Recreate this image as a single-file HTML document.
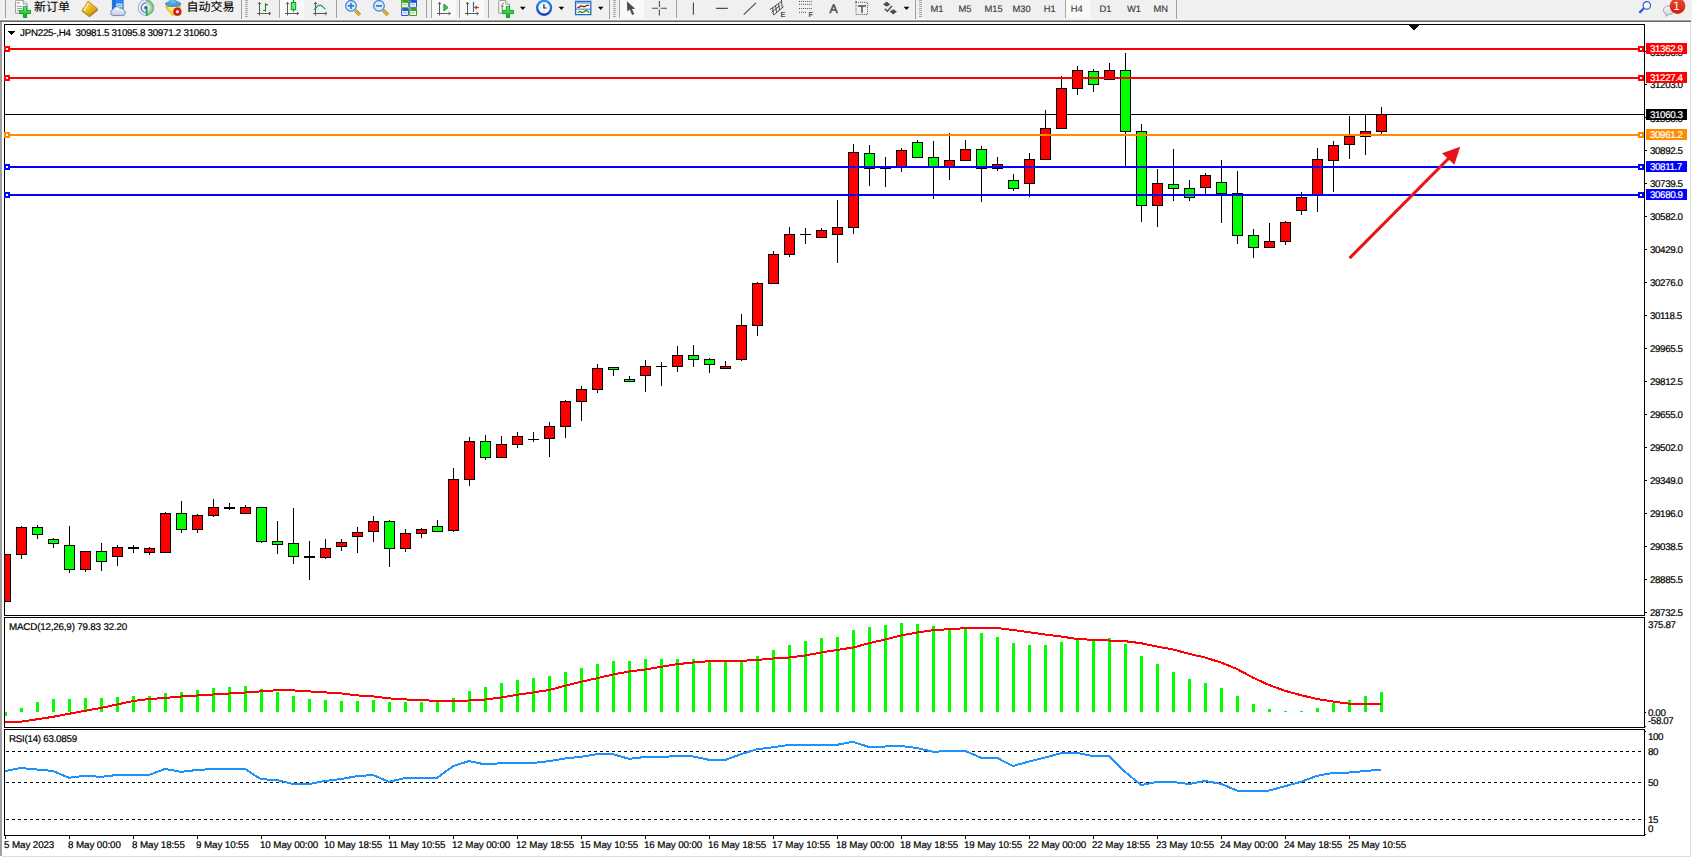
<!DOCTYPE html><html><head><meta charset="utf-8"><title>JPN225-,H4</title>
<style>
html,body{margin:0;padding:0;background:#fff;}
body{width:1692px;height:858px;overflow:hidden;position:relative;font-family:"Liberation Sans","Noto Sans CJK SC",sans-serif;font-size:9.8px;color:#000;-webkit-text-stroke:0.2px #000;text-rendering:geometricPrecision;}
#tb{position:absolute;left:0;top:0;width:1692px;height:19px;background:#f0f0f0;overflow:hidden;}
.t{letter-spacing:-0.27px;position:absolute;white-space:nowrap;line-height:12px;height:12px;}
.cn{-webkit-text-stroke:0.1px #000;position:absolute;white-space:nowrap;font-size:12px;line-height:14px;font-family:"Liberation Sans","Noto Sans CJK SC",sans-serif;color:#000;}
.tf{-webkit-text-stroke:0.15px #3c3c3c;position:absolute;white-space:nowrap;font-size:9.4px;line-height:12px;color:#3c3c3c;top:2.5px;}
.pl{letter-spacing:-0.4px;-webkit-text-stroke:0.2px #fff;position:absolute;left:1646px;width:41px;height:11px;color:#fff;line-height:14px;overflow:hidden;text-indent:4px;white-space:nowrap;}
.ax{letter-spacing:-0.4px;position:absolute;left:1650px;white-space:nowrap;line-height:12px;height:12px;}
.tm{position:absolute;top:840px;letter-spacing:-0.1px;white-space:nowrap;line-height:12px;height:12px;}
svg{position:absolute;left:0;top:0;}
</style></head><body>
<svg id="chart" width="1692" height="858" viewBox="0 0 1692 858" shape-rendering="crispEdges">
<rect x="0" y="19" width="1692" height="1" fill="#fafafa"/>
<rect x="0" y="20" width="1691" height="1" fill="#a0a0a0"/>
<rect x="0" y="21" width="1691" height="1" fill="#696969"/>
<rect x="1691" y="19" width="1" height="3" fill="#f0f0f0"/>
<rect x="0" y="22" width="2" height="834" fill="#a0a0a0"/>
<rect x="1690" y="22" width="1" height="835" fill="#dedede"/>
<rect x="2" y="856" width="1689" height="1" fill="#dedede"/>
<rect x="4" y="24" width="1641" height="1" fill="#000"/>
<rect x="4" y="615" width="1641" height="1" fill="#000"/>
<rect x="4" y="24" width="1" height="592" fill="#000"/>
<rect x="1644" y="24" width="1" height="592" fill="#000"/>
<rect x="4" y="617" width="1641" height="1" fill="#000"/>
<rect x="4" y="727" width="1641" height="1" fill="#000"/>
<rect x="4" y="617" width="1" height="111" fill="#000"/>
<rect x="1644" y="617" width="1" height="111" fill="#000"/>
<rect x="4" y="729" width="1641" height="1" fill="#000"/>
<rect x="4" y="835" width="1641" height="1" fill="#000"/>
<rect x="4" y="729" width="1" height="107" fill="#000"/>
<rect x="1644" y="729" width="1" height="107" fill="#000"/>
<rect x="1645" y="834" width="1" height="1" fill="#000"/>
<rect x="1645" y="84" width="2" height="1" fill="#000"/>
<rect x="1645" y="150" width="2" height="1" fill="#000"/>
<rect x="1645" y="183" width="2" height="1" fill="#000"/>
<rect x="1645" y="216" width="2" height="1" fill="#000"/>
<rect x="1645" y="249" width="2" height="1" fill="#000"/>
<rect x="1645" y="282" width="2" height="1" fill="#000"/>
<rect x="1645" y="315" width="2" height="1" fill="#000"/>
<rect x="1645" y="348" width="2" height="1" fill="#000"/>
<rect x="1645" y="381" width="2" height="1" fill="#000"/>
<rect x="1645" y="414" width="2" height="1" fill="#000"/>
<rect x="1645" y="447" width="2" height="1" fill="#000"/>
<rect x="1645" y="480" width="2" height="1" fill="#000"/>
<rect x="1645" y="513" width="2" height="1" fill="#000"/>
<rect x="1645" y="546" width="2" height="1" fill="#000"/>
<rect x="1645" y="579" width="2" height="1" fill="#000"/>
<rect x="1645" y="612" width="2" height="1" fill="#000"/>
<rect x="1645" y="51" width="2" height="1" fill="#000"/>
<rect x="1645" y="117" width="2" height="1" fill="#000"/>
<rect x="1645" y="712" width="1" height="1" fill="#000"/>
<rect x="1645" y="726" width="1" height="1" fill="#000"/>
<rect x="1645" y="731" width="1" height="1" fill="#000"/>
<rect x="5" y="114" width="1639" height="1" fill="#000"/>
<rect x="5" y="554" width="1" height="48" fill="#000"/>
<rect x="5" y="554" width="6" height="48" fill="#000"/>
<rect x="5" y="555" width="5" height="46" fill="#f00"/>
<rect x="21" y="526" width="1" height="33" fill="#000"/>
<rect x="16" y="527" width="11" height="28" fill="#000"/>
<rect x="17" y="528" width="9" height="26" fill="#f00"/>
<rect x="37" y="525" width="1" height="14" fill="#000"/>
<rect x="32" y="527" width="11" height="8" fill="#000"/>
<rect x="33" y="528" width="9" height="6" fill="#0f0"/>
<rect x="53" y="538" width="1" height="10" fill="#000"/>
<rect x="48" y="539" width="11" height="5" fill="#000"/>
<rect x="49" y="540" width="9" height="3" fill="#0f0"/>
<rect x="69" y="526" width="1" height="47" fill="#000"/>
<rect x="64" y="545" width="11" height="25" fill="#000"/>
<rect x="65" y="546" width="9" height="23" fill="#0f0"/>
<rect x="85" y="551" width="1" height="21" fill="#000"/>
<rect x="80" y="551" width="11" height="19" fill="#000"/>
<rect x="81" y="552" width="9" height="17" fill="#f00"/>
<rect x="101" y="543" width="1" height="28" fill="#000"/>
<rect x="96" y="551" width="11" height="11" fill="#000"/>
<rect x="97" y="552" width="9" height="9" fill="#0f0"/>
<rect x="117" y="545" width="1" height="21" fill="#000"/>
<rect x="112" y="547" width="11" height="10" fill="#000"/>
<rect x="113" y="548" width="9" height="8" fill="#f00"/>
<rect x="133" y="545" width="1" height="8" fill="#000"/>
<rect x="128" y="547" width="11" height="2" fill="#000"/>
<rect x="149" y="547" width="1" height="8" fill="#000"/>
<rect x="144" y="548" width="11" height="5" fill="#000"/>
<rect x="145" y="549" width="9" height="3" fill="#f00"/>
<rect x="165" y="512" width="1" height="41" fill="#000"/>
<rect x="160" y="513" width="11" height="40" fill="#000"/>
<rect x="161" y="514" width="9" height="38" fill="#f00"/>
<rect x="181" y="501" width="1" height="32" fill="#000"/>
<rect x="176" y="513" width="11" height="17" fill="#000"/>
<rect x="177" y="514" width="9" height="15" fill="#0f0"/>
<rect x="197" y="514" width="1" height="19" fill="#000"/>
<rect x="192" y="515" width="11" height="15" fill="#000"/>
<rect x="193" y="516" width="9" height="13" fill="#f00"/>
<rect x="213" y="499" width="1" height="18" fill="#000"/>
<rect x="208" y="507" width="11" height="9" fill="#000"/>
<rect x="209" y="508" width="9" height="7" fill="#f00"/>
<rect x="229" y="503" width="1" height="7" fill="#000"/>
<rect x="224" y="507" width="11" height="2" fill="#000"/>
<rect x="245" y="505" width="1" height="9" fill="#000"/>
<rect x="240" y="507" width="11" height="7" fill="#000"/>
<rect x="241" y="508" width="9" height="5" fill="#f00"/>
<rect x="261" y="507" width="1" height="36" fill="#000"/>
<rect x="256" y="507" width="11" height="35" fill="#000"/>
<rect x="257" y="508" width="9" height="33" fill="#0f0"/>
<rect x="277" y="521" width="1" height="33" fill="#000"/>
<rect x="272" y="541" width="11" height="4" fill="#000"/>
<rect x="273" y="542" width="9" height="2" fill="#0f0"/>
<rect x="293" y="508" width="1" height="56" fill="#000"/>
<rect x="288" y="543" width="11" height="14" fill="#000"/>
<rect x="289" y="544" width="9" height="12" fill="#0f0"/>
<rect x="309" y="541" width="1" height="39" fill="#000"/>
<rect x="304" y="556" width="11" height="2" fill="#000"/>
<rect x="325" y="539" width="1" height="20" fill="#000"/>
<rect x="320" y="548" width="11" height="10" fill="#000"/>
<rect x="321" y="549" width="9" height="8" fill="#f00"/>
<rect x="341" y="539" width="1" height="12" fill="#000"/>
<rect x="336" y="542" width="11" height="5" fill="#000"/>
<rect x="337" y="543" width="9" height="3" fill="#f00"/>
<rect x="357" y="527" width="1" height="26" fill="#000"/>
<rect x="352" y="532" width="11" height="5" fill="#000"/>
<rect x="353" y="533" width="9" height="3" fill="#f00"/>
<rect x="373" y="516" width="1" height="26" fill="#000"/>
<rect x="368" y="521" width="11" height="11" fill="#000"/>
<rect x="369" y="522" width="9" height="9" fill="#f00"/>
<rect x="389" y="520" width="1" height="47" fill="#000"/>
<rect x="384" y="521" width="11" height="28" fill="#000"/>
<rect x="385" y="522" width="9" height="26" fill="#0f0"/>
<rect x="405" y="529" width="1" height="23" fill="#000"/>
<rect x="400" y="533" width="11" height="16" fill="#000"/>
<rect x="401" y="534" width="9" height="14" fill="#f00"/>
<rect x="421" y="528" width="1" height="10" fill="#000"/>
<rect x="416" y="529" width="11" height="5" fill="#000"/>
<rect x="417" y="530" width="9" height="3" fill="#f00"/>
<rect x="437" y="520" width="1" height="12" fill="#000"/>
<rect x="432" y="526" width="11" height="6" fill="#000"/>
<rect x="433" y="527" width="9" height="4" fill="#0f0"/>
<rect x="453" y="468" width="1" height="64" fill="#000"/>
<rect x="448" y="479" width="11" height="52" fill="#000"/>
<rect x="449" y="480" width="9" height="50" fill="#f00"/>
<rect x="469" y="437" width="1" height="49" fill="#000"/>
<rect x="464" y="441" width="11" height="39" fill="#000"/>
<rect x="465" y="442" width="9" height="37" fill="#f00"/>
<rect x="485" y="435" width="1" height="25" fill="#000"/>
<rect x="480" y="441" width="11" height="17" fill="#000"/>
<rect x="481" y="442" width="9" height="15" fill="#0f0"/>
<rect x="501" y="436" width="1" height="22" fill="#000"/>
<rect x="496" y="444" width="11" height="14" fill="#000"/>
<rect x="497" y="445" width="9" height="12" fill="#f00"/>
<rect x="517" y="432" width="1" height="16" fill="#000"/>
<rect x="512" y="436" width="11" height="9" fill="#000"/>
<rect x="513" y="437" width="9" height="7" fill="#f00"/>
<rect x="533" y="432" width="1" height="10" fill="#000"/>
<rect x="528" y="439" width="11" height="1" fill="#000"/>
<rect x="549" y="422" width="1" height="35" fill="#000"/>
<rect x="544" y="426" width="11" height="13" fill="#000"/>
<rect x="545" y="427" width="9" height="11" fill="#f00"/>
<rect x="565" y="400" width="1" height="38" fill="#000"/>
<rect x="560" y="401" width="11" height="26" fill="#000"/>
<rect x="561" y="402" width="9" height="24" fill="#f00"/>
<rect x="581" y="386" width="1" height="35" fill="#000"/>
<rect x="576" y="389" width="11" height="13" fill="#000"/>
<rect x="577" y="390" width="9" height="11" fill="#f00"/>
<rect x="597" y="364" width="1" height="29" fill="#000"/>
<rect x="592" y="368" width="11" height="22" fill="#000"/>
<rect x="593" y="369" width="9" height="20" fill="#f00"/>
<rect x="613" y="367" width="1" height="9" fill="#000"/>
<rect x="608" y="367" width="11" height="3" fill="#000"/>
<rect x="609" y="368" width="9" height="1" fill="#0f0"/>
<rect x="629" y="376" width="1" height="6" fill="#000"/>
<rect x="624" y="379" width="11" height="3" fill="#000"/>
<rect x="625" y="380" width="9" height="1" fill="#0f0"/>
<rect x="645" y="360" width="1" height="32" fill="#000"/>
<rect x="640" y="366" width="11" height="10" fill="#000"/>
<rect x="641" y="367" width="9" height="8" fill="#f00"/>
<rect x="661" y="362" width="1" height="24" fill="#000"/>
<rect x="656" y="366" width="11" height="1" fill="#000"/>
<rect x="677" y="346" width="1" height="26" fill="#000"/>
<rect x="672" y="355" width="11" height="12" fill="#000"/>
<rect x="673" y="356" width="9" height="10" fill="#f00"/>
<rect x="693" y="345" width="1" height="22" fill="#000"/>
<rect x="688" y="355" width="11" height="5" fill="#000"/>
<rect x="689" y="356" width="9" height="3" fill="#0f0"/>
<rect x="709" y="358" width="1" height="15" fill="#000"/>
<rect x="704" y="359" width="11" height="6" fill="#000"/>
<rect x="705" y="360" width="9" height="4" fill="#0f0"/>
<rect x="725" y="361" width="1" height="8" fill="#000"/>
<rect x="720" y="366" width="11" height="3" fill="#000"/>
<rect x="721" y="367" width="9" height="1" fill="#f00"/>
<rect x="741" y="314" width="1" height="47" fill="#000"/>
<rect x="736" y="325" width="11" height="35" fill="#000"/>
<rect x="737" y="326" width="9" height="33" fill="#f00"/>
<rect x="757" y="282" width="1" height="54" fill="#000"/>
<rect x="752" y="283" width="11" height="43" fill="#000"/>
<rect x="753" y="284" width="9" height="41" fill="#f00"/>
<rect x="773" y="251" width="1" height="33" fill="#000"/>
<rect x="768" y="254" width="11" height="30" fill="#000"/>
<rect x="769" y="255" width="9" height="28" fill="#f00"/>
<rect x="789" y="227" width="1" height="30" fill="#000"/>
<rect x="784" y="234" width="11" height="21" fill="#000"/>
<rect x="785" y="235" width="9" height="19" fill="#f00"/>
<rect x="805" y="228" width="1" height="16" fill="#000"/>
<rect x="800" y="234" width="11" height="1" fill="#000"/>
<rect x="821" y="228" width="1" height="10" fill="#000"/>
<rect x="816" y="230" width="11" height="8" fill="#000"/>
<rect x="817" y="231" width="9" height="6" fill="#f00"/>
<rect x="837" y="200" width="1" height="63" fill="#000"/>
<rect x="832" y="227" width="11" height="8" fill="#000"/>
<rect x="833" y="228" width="9" height="6" fill="#f00"/>
<rect x="853" y="144" width="1" height="90" fill="#000"/>
<rect x="848" y="152" width="11" height="76" fill="#000"/>
<rect x="849" y="153" width="9" height="74" fill="#f00"/>
<rect x="869" y="145" width="1" height="41" fill="#000"/>
<rect x="864" y="153" width="11" height="16" fill="#000"/>
<rect x="865" y="154" width="9" height="14" fill="#0f0"/>
<rect x="885" y="157" width="1" height="30" fill="#000"/>
<rect x="880" y="168" width="11" height="1" fill="#000"/>
<rect x="901" y="148" width="1" height="24" fill="#000"/>
<rect x="896" y="150" width="11" height="17" fill="#000"/>
<rect x="897" y="151" width="9" height="15" fill="#f00"/>
<rect x="917" y="140" width="1" height="18" fill="#000"/>
<rect x="912" y="142" width="11" height="16" fill="#000"/>
<rect x="913" y="143" width="9" height="14" fill="#0f0"/>
<rect x="933" y="141" width="1" height="58" fill="#000"/>
<rect x="928" y="157" width="11" height="11" fill="#000"/>
<rect x="929" y="158" width="9" height="9" fill="#0f0"/>
<rect x="949" y="133" width="1" height="47" fill="#000"/>
<rect x="944" y="160" width="11" height="8" fill="#000"/>
<rect x="945" y="161" width="9" height="6" fill="#f00"/>
<rect x="965" y="140" width="1" height="21" fill="#000"/>
<rect x="960" y="149" width="11" height="12" fill="#000"/>
<rect x="961" y="150" width="9" height="10" fill="#f00"/>
<rect x="981" y="146" width="1" height="56" fill="#000"/>
<rect x="976" y="149" width="11" height="20" fill="#000"/>
<rect x="977" y="150" width="9" height="18" fill="#0f0"/>
<rect x="997" y="157" width="1" height="14" fill="#000"/>
<rect x="992" y="164" width="11" height="5" fill="#000"/>
<rect x="993" y="165" width="9" height="3" fill="#f00"/>
<rect x="1013" y="174" width="1" height="17" fill="#000"/>
<rect x="1008" y="180" width="11" height="9" fill="#000"/>
<rect x="1009" y="181" width="9" height="7" fill="#0f0"/>
<rect x="1029" y="153" width="1" height="44" fill="#000"/>
<rect x="1024" y="159" width="11" height="25" fill="#000"/>
<rect x="1025" y="160" width="9" height="23" fill="#f00"/>
<rect x="1045" y="110" width="1" height="50" fill="#000"/>
<rect x="1040" y="128" width="11" height="32" fill="#000"/>
<rect x="1041" y="129" width="9" height="30" fill="#f00"/>
<rect x="1061" y="76" width="1" height="53" fill="#000"/>
<rect x="1056" y="88" width="11" height="41" fill="#000"/>
<rect x="1057" y="89" width="9" height="39" fill="#f00"/>
<rect x="1077" y="66" width="1" height="29" fill="#000"/>
<rect x="1072" y="70" width="11" height="19" fill="#000"/>
<rect x="1073" y="71" width="9" height="17" fill="#f00"/>
<rect x="1093" y="69" width="1" height="23" fill="#000"/>
<rect x="1088" y="71" width="11" height="14" fill="#000"/>
<rect x="1089" y="72" width="9" height="12" fill="#0f0"/>
<rect x="1109" y="63" width="1" height="17" fill="#000"/>
<rect x="1104" y="70" width="11" height="10" fill="#000"/>
<rect x="1105" y="71" width="9" height="8" fill="#f00"/>
<rect x="1125" y="53" width="1" height="113" fill="#000"/>
<rect x="1120" y="70" width="11" height="62" fill="#000"/>
<rect x="1121" y="71" width="9" height="60" fill="#0f0"/>
<rect x="1141" y="124" width="1" height="98" fill="#000"/>
<rect x="1136" y="131" width="11" height="75" fill="#000"/>
<rect x="1137" y="132" width="9" height="73" fill="#0f0"/>
<rect x="1157" y="169" width="1" height="58" fill="#000"/>
<rect x="1152" y="183" width="11" height="23" fill="#000"/>
<rect x="1153" y="184" width="9" height="21" fill="#f00"/>
<rect x="1173" y="149" width="1" height="52" fill="#000"/>
<rect x="1168" y="184" width="11" height="5" fill="#000"/>
<rect x="1169" y="185" width="9" height="3" fill="#0f0"/>
<rect x="1189" y="180" width="1" height="21" fill="#000"/>
<rect x="1184" y="188" width="11" height="10" fill="#000"/>
<rect x="1185" y="189" width="9" height="8" fill="#0f0"/>
<rect x="1205" y="173" width="1" height="21" fill="#000"/>
<rect x="1200" y="175" width="11" height="13" fill="#000"/>
<rect x="1201" y="176" width="9" height="11" fill="#f00"/>
<rect x="1221" y="160" width="1" height="63" fill="#000"/>
<rect x="1216" y="182" width="11" height="12" fill="#000"/>
<rect x="1217" y="183" width="9" height="10" fill="#0f0"/>
<rect x="1237" y="171" width="1" height="73" fill="#000"/>
<rect x="1232" y="193" width="11" height="43" fill="#000"/>
<rect x="1233" y="194" width="9" height="41" fill="#0f0"/>
<rect x="1253" y="229" width="1" height="29" fill="#000"/>
<rect x="1248" y="235" width="11" height="13" fill="#000"/>
<rect x="1249" y="236" width="9" height="11" fill="#0f0"/>
<rect x="1269" y="223" width="1" height="25" fill="#000"/>
<rect x="1264" y="241" width="11" height="7" fill="#000"/>
<rect x="1265" y="242" width="9" height="5" fill="#f00"/>
<rect x="1285" y="221" width="1" height="24" fill="#000"/>
<rect x="1280" y="222" width="11" height="20" fill="#000"/>
<rect x="1281" y="223" width="9" height="18" fill="#f00"/>
<rect x="1301" y="192" width="1" height="23" fill="#000"/>
<rect x="1296" y="197" width="11" height="14" fill="#000"/>
<rect x="1297" y="198" width="9" height="12" fill="#f00"/>
<rect x="1317" y="148" width="1" height="64" fill="#000"/>
<rect x="1312" y="159" width="11" height="36" fill="#000"/>
<rect x="1313" y="160" width="9" height="34" fill="#f00"/>
<rect x="1333" y="141" width="1" height="51" fill="#000"/>
<rect x="1328" y="145" width="11" height="16" fill="#000"/>
<rect x="1329" y="146" width="9" height="14" fill="#f00"/>
<rect x="1349" y="116" width="1" height="43" fill="#000"/>
<rect x="1344" y="136" width="11" height="9" fill="#000"/>
<rect x="1345" y="137" width="9" height="7" fill="#f00"/>
<rect x="1365" y="115" width="1" height="40" fill="#000"/>
<rect x="1360" y="131" width="11" height="6" fill="#000"/>
<rect x="1361" y="132" width="9" height="4" fill="#f00"/>
<rect x="1381" y="107" width="1" height="27" fill="#000"/>
<rect x="1376" y="114" width="11" height="18" fill="#000"/>
<rect x="1377" y="115" width="9" height="16" fill="#f00"/>
<rect x="5" y="48" width="1639" height="2" fill="#f00"/>
<rect x="4" y="46" width="6" height="6" fill="#f00"/>
<rect x="6" y="48" width="2" height="2" fill="#fff"/>
<rect x="1638" y="46" width="6" height="6" fill="#f00"/>
<rect x="1640" y="48" width="2" height="2" fill="#fff"/>
<rect x="5" y="77" width="1639" height="2" fill="#f00"/>
<rect x="4" y="75" width="6" height="6" fill="#f00"/>
<rect x="6" y="77" width="2" height="2" fill="#fff"/>
<rect x="1638" y="75" width="6" height="6" fill="#f00"/>
<rect x="1640" y="77" width="2" height="2" fill="#fff"/>
<rect x="5" y="134" width="1639" height="2" fill="#ff8c00"/>
<rect x="4" y="132" width="6" height="6" fill="#ff8c00"/>
<rect x="6" y="134" width="2" height="2" fill="#fff"/>
<rect x="1638" y="132" width="6" height="6" fill="#ff8c00"/>
<rect x="1640" y="134" width="2" height="2" fill="#fff"/>
<rect x="5" y="166" width="1639" height="2" fill="#00f"/>
<rect x="4" y="164" width="6" height="6" fill="#00f"/>
<rect x="6" y="166" width="2" height="2" fill="#fff"/>
<rect x="1638" y="164" width="6" height="6" fill="#00f"/>
<rect x="1640" y="166" width="2" height="2" fill="#fff"/>
<rect x="5" y="194" width="1639" height="2" fill="#00f"/>
<rect x="4" y="192" width="6" height="6" fill="#00f"/>
<rect x="6" y="194" width="2" height="2" fill="#fff"/>
<rect x="1638" y="192" width="6" height="6" fill="#00f"/>
<rect x="1640" y="194" width="2" height="2" fill="#fff"/>
<polygon points="1408,25 1419,25 1413.5,30.5" fill="#000"/>
<polygon points="8,31 15,31 11.5,35" fill="#000"/>
<rect x="5" y="712" width="2" height="4" fill="#0f0"/>
<rect x="20" y="708" width="3" height="4" fill="#0f0"/>
<rect x="36" y="702" width="3" height="10" fill="#0f0"/>
<rect x="52" y="699" width="3" height="13" fill="#0f0"/>
<rect x="68" y="699" width="3" height="13" fill="#0f0"/>
<rect x="84" y="698" width="3" height="14" fill="#0f0"/>
<rect x="100" y="698" width="3" height="14" fill="#0f0"/>
<rect x="116" y="697" width="3" height="15" fill="#0f0"/>
<rect x="132" y="696" width="3" height="16" fill="#0f0"/>
<rect x="148" y="696" width="3" height="16" fill="#0f0"/>
<rect x="164" y="693" width="3" height="19" fill="#0f0"/>
<rect x="180" y="692" width="3" height="20" fill="#0f0"/>
<rect x="196" y="690" width="3" height="22" fill="#0f0"/>
<rect x="212" y="688" width="3" height="24" fill="#0f0"/>
<rect x="228" y="687" width="3" height="25" fill="#0f0"/>
<rect x="244" y="686" width="3" height="26" fill="#0f0"/>
<rect x="260" y="689" width="3" height="23" fill="#0f0"/>
<rect x="276" y="692" width="3" height="20" fill="#0f0"/>
<rect x="292" y="696" width="3" height="16" fill="#0f0"/>
<rect x="308" y="699" width="3" height="13" fill="#0f0"/>
<rect x="324" y="700" width="3" height="12" fill="#0f0"/>
<rect x="340" y="701" width="3" height="11" fill="#0f0"/>
<rect x="356" y="701" width="3" height="11" fill="#0f0"/>
<rect x="372" y="700" width="3" height="12" fill="#0f0"/>
<rect x="388" y="702" width="3" height="10" fill="#0f0"/>
<rect x="404" y="702" width="3" height="10" fill="#0f0"/>
<rect x="420" y="702" width="3" height="10" fill="#0f0"/>
<rect x="436" y="702" width="3" height="10" fill="#0f0"/>
<rect x="452" y="698" width="3" height="14" fill="#0f0"/>
<rect x="468" y="691" width="3" height="21" fill="#0f0"/>
<rect x="484" y="687" width="3" height="25" fill="#0f0"/>
<rect x="500" y="683" width="3" height="29" fill="#0f0"/>
<rect x="516" y="680" width="3" height="32" fill="#0f0"/>
<rect x="532" y="678" width="3" height="34" fill="#0f0"/>
<rect x="548" y="676" width="3" height="36" fill="#0f0"/>
<rect x="564" y="672" width="3" height="40" fill="#0f0"/>
<rect x="580" y="668" width="3" height="44" fill="#0f0"/>
<rect x="596" y="664" width="3" height="48" fill="#0f0"/>
<rect x="612" y="661" width="3" height="51" fill="#0f0"/>
<rect x="628" y="661" width="3" height="51" fill="#0f0"/>
<rect x="644" y="659" width="3" height="53" fill="#0f0"/>
<rect x="660" y="659" width="3" height="53" fill="#0f0"/>
<rect x="676" y="659" width="3" height="53" fill="#0f0"/>
<rect x="692" y="659" width="3" height="53" fill="#0f0"/>
<rect x="708" y="660" width="3" height="52" fill="#0f0"/>
<rect x="724" y="661" width="3" height="51" fill="#0f0"/>
<rect x="740" y="660" width="3" height="52" fill="#0f0"/>
<rect x="756" y="656" width="3" height="56" fill="#0f0"/>
<rect x="772" y="650" width="3" height="62" fill="#0f0"/>
<rect x="788" y="645" width="3" height="67" fill="#0f0"/>
<rect x="804" y="641" width="3" height="71" fill="#0f0"/>
<rect x="820" y="638" width="3" height="74" fill="#0f0"/>
<rect x="836" y="637" width="3" height="75" fill="#0f0"/>
<rect x="852" y="630" width="3" height="82" fill="#0f0"/>
<rect x="868" y="627" width="3" height="85" fill="#0f0"/>
<rect x="884" y="625" width="3" height="87" fill="#0f0"/>
<rect x="900" y="623" width="3" height="89" fill="#0f0"/>
<rect x="916" y="624" width="3" height="88" fill="#0f0"/>
<rect x="932" y="626" width="3" height="86" fill="#0f0"/>
<rect x="948" y="628" width="3" height="84" fill="#0f0"/>
<rect x="964" y="629" width="3" height="83" fill="#0f0"/>
<rect x="980" y="633" width="3" height="79" fill="#0f0"/>
<rect x="996" y="637" width="3" height="75" fill="#0f0"/>
<rect x="1012" y="643" width="3" height="69" fill="#0f0"/>
<rect x="1028" y="645" width="3" height="67" fill="#0f0"/>
<rect x="1044" y="645" width="3" height="67" fill="#0f0"/>
<rect x="1060" y="642" width="3" height="70" fill="#0f0"/>
<rect x="1076" y="639" width="3" height="73" fill="#0f0"/>
<rect x="1092" y="640" width="3" height="72" fill="#0f0"/>
<rect x="1108" y="638" width="3" height="74" fill="#0f0"/>
<rect x="1124" y="644" width="3" height="68" fill="#0f0"/>
<rect x="1140" y="656" width="3" height="56" fill="#0f0"/>
<rect x="1156" y="664" width="3" height="48" fill="#0f0"/>
<rect x="1172" y="672" width="3" height="40" fill="#0f0"/>
<rect x="1188" y="679" width="3" height="33" fill="#0f0"/>
<rect x="1204" y="683" width="3" height="29" fill="#0f0"/>
<rect x="1220" y="688" width="3" height="24" fill="#0f0"/>
<rect x="1236" y="696" width="3" height="16" fill="#0f0"/>
<rect x="1252" y="704" width="3" height="8" fill="#0f0"/>
<rect x="1268" y="709" width="3" height="3" fill="#0f0"/>
<rect x="1284" y="711" width="3" height="1" fill="#0f0"/>
<rect x="1300" y="711" width="3" height="1" fill="#0f0"/>
<rect x="1316" y="708" width="3" height="4" fill="#0f0"/>
<rect x="1332" y="703" width="3" height="9" fill="#0f0"/>
<rect x="1348" y="700" width="3" height="12" fill="#0f0"/>
<rect x="1364" y="696" width="3" height="16" fill="#0f0"/>
<rect x="1380" y="692" width="3" height="20" fill="#0f0"/>
<polyline points="5,722.0 21,721.7 37,719.3 53,716.8 69,713.8 85,710.8 101,708.0 117,704.5 133,701.0 149,699.0 165,698.0 181,696.5 197,695.5 213,694.5 229,693.5 245,692.5 261,691.4 277,690.2 293,690.4 309,691.4 325,692.4 341,693.4 357,695.4 373,696.4 389,698.4 405,699.4 421,700.2 437,700.8 453,700.8 469,700.5 485,699.5 501,697.5 517,694.8 533,692.5 549,690.0 565,685.8 581,681.8 597,678.2 613,674.5 629,671.5 645,669.5 661,666.8 677,664.2 693,662.5 709,661.2 725,661.0 741,660.8 757,660.0 773,658.5 789,657.5 805,655.5 821,652.5 837,650.0 853,647.5 869,643.2 885,639.5 901,635.5 917,632.5 933,630.2 949,629.2 965,628.2 981,627.8 997,628.0 1013,630.0 1029,632.2 1045,634.5 1061,636.5 1077,639.0 1093,639.8 1109,640.5 1125,641.2 1141,643.2 1157,646.5 1173,649.5 1189,653.8 1205,657.5 1221,662.5 1237,669.0 1253,677.7 1269,685.0 1285,690.8 1301,695.2 1317,699.0 1333,701.5 1349,703.7 1365,703.7 1381,703.7" fill="none" stroke="#f00" stroke-width="2"/>
<line x1="6" y1="751.5" x2="1644" y2="751.5" stroke="#000" stroke-width="1" stroke-dasharray="3 3"/>
<line x1="6" y1="782.5" x2="1644" y2="782.5" stroke="#000" stroke-width="1" stroke-dasharray="3 3"/>
<line x1="6" y1="819.5" x2="1644" y2="819.5" stroke="#000" stroke-width="1" stroke-dasharray="3 3"/>
<polyline points="5,771.0 21,768.0 37,769.5 53,771.0 69,777.8 85,775.8 101,776.8 117,775.0 133,775.0 149,775.0 165,769.0 181,771.8 197,770.0 213,769.0 229,769.0 245,769.0 261,779.2 277,780.0 293,784.0 309,784.0 325,781.0 341,779.0 357,776.2 373,775.0 389,781.8 405,778.0 421,778.0 437,778.0 453,766.2 469,761.0 485,764.5 501,763.2 517,763.0 533,763.0 549,761.2 565,758.5 581,756.8 597,754.2 613,754.2 629,758.8 645,757.0 661,757.0 677,756.0 693,756.5 709,759.8 725,760.0 741,754.2 757,749.2 773,747.2 789,745.0 805,744.8 821,744.8 837,744.8 853,741.8 869,747.0 885,746.5 901,746.0 917,748.0 933,751.8 949,751.0 965,750.8 981,757.8 997,757.8 1013,766.0 1029,761.5 1045,757.5 1061,753.2 1077,753.0 1093,756.0 1109,756.0 1125,771.8 1141,785.0 1157,782.0 1173,782.0 1189,784.0 1205,781.0 1221,783.8 1237,790.6 1253,790.5 1269,790.5 1285,786.2 1301,781.8 1317,775.8 1333,773.0 1349,772.5 1365,771.1 1381,769.5" fill="none" stroke="#1e90ff" stroke-width="2"/>
<rect x="5" y="836" width="1" height="3" fill="#000"/>
<rect x="69" y="836" width="1" height="3" fill="#000"/>
<rect x="133" y="836" width="1" height="3" fill="#000"/>
<rect x="197" y="836" width="1" height="3" fill="#000"/>
<rect x="261" y="836" width="1" height="3" fill="#000"/>
<rect x="325" y="836" width="1" height="3" fill="#000"/>
<rect x="389" y="836" width="1" height="3" fill="#000"/>
<rect x="453" y="836" width="1" height="3" fill="#000"/>
<rect x="517" y="836" width="1" height="3" fill="#000"/>
<rect x="581" y="836" width="1" height="3" fill="#000"/>
<rect x="645" y="836" width="1" height="3" fill="#000"/>
<rect x="709" y="836" width="1" height="3" fill="#000"/>
<rect x="773" y="836" width="1" height="3" fill="#000"/>
<rect x="837" y="836" width="1" height="3" fill="#000"/>
<rect x="901" y="836" width="1" height="3" fill="#000"/>
<rect x="965" y="836" width="1" height="3" fill="#000"/>
<rect x="1029" y="836" width="1" height="3" fill="#000"/>
<rect x="1093" y="836" width="1" height="3" fill="#000"/>
<rect x="1157" y="836" width="1" height="3" fill="#000"/>
<rect x="1221" y="836" width="1" height="3" fill="#000"/>
<rect x="1285" y="836" width="1" height="3" fill="#000"/>
<rect x="1349" y="836" width="1" height="3" fill="#000"/>
</svg>
<svg width="1692" height="858" viewBox="0 0 1692 858"><line x1="1349.6" y1="258.1" x2="1451" y2="156" stroke="#e8141c" stroke-width="3.1"/><polygon points="1460.2,146.8 1442,153.3 1454.4,164.8" fill="#e8141c"/></svg>
<div class="t" style="left:20px;top:28px;" id="title">JPN225-,H4&nbsp; 30981.5 31095.8 30971.2 31060.3</div>
<div class="t" style="left:9px;top:622px;letter-spacing:-0.18px" id="macdt">MACD(12,26,9) 79.83 32.20</div>
<div class="t" style="left:9px;top:734px;" id="rsit">RSI(14) 63.0859</div>
<div class="ax" style="top:80px">31203.0</div>
<div class="ax" style="top:146px">30892.5</div>
<div class="ax" style="top:179px">30739.5</div>
<div class="ax" style="top:212px">30582.0</div>
<div class="ax" style="top:245px">30429.0</div>
<div class="ax" style="top:278px">30276.0</div>
<div class="ax" style="top:311px">30118.5</div>
<div class="ax" style="top:344px">29965.5</div>
<div class="ax" style="top:377px">29812.5</div>
<div class="ax" style="top:410px">29655.0</div>
<div class="ax" style="top:443px">29502.0</div>
<div class="ax" style="top:476px">29349.0</div>
<div class="ax" style="top:509px">29196.0</div>
<div class="ax" style="top:542px">29038.5</div>
<div class="ax" style="top:575px">28885.5</div>
<div class="ax" style="top:608px">28732.5</div>
<div class="ax" style="top:48px">31356.0</div>
<div class="ax" style="top:114px">31050.0</div>
<div class="pl" style="top:43px;background:#f00">31362.9</div>
<div class="pl" style="top:72px;background:#f00">31227.4</div>
<div class="pl" style="top:109px;background:#000">31060.3</div>
<div class="pl" style="top:129px;background:#ff8c00">30961.2</div>
<div class="pl" style="top:161px;background:#00f">30811.7</div>
<div class="pl" style="top:189px;background:#00f">30680.9</div>
<div class="ax" style="left:1648px;top:620px">375.87</div>
<div class="ax" style="left:1648px;top:708px">0.00</div>
<div class="ax" style="left:1648px;top:716px">-58.07</div>
<div class="ax" style="left:1648px;top:732px">100</div>
<div class="ax" style="left:1648px;top:747px">80</div>
<div class="ax" style="left:1648px;top:778px">50</div>
<div class="ax" style="left:1648px;top:815px">15</div>
<div class="ax" style="left:1648px;top:824px">0</div>
<div class="tm" style="left:4px">5 May 2023</div>
<div class="tm" style="left:68px">8 May 00:00</div>
<div class="tm" style="left:132px">8 May 18:55</div>
<div class="tm" style="left:196px">9 May 10:55</div>
<div class="tm" style="left:260px">10 May 00:00</div>
<div class="tm" style="left:324px">10 May 18:55</div>
<div class="tm" style="left:388px">11 May 10:55</div>
<div class="tm" style="left:452px">12 May 00:00</div>
<div class="tm" style="left:516px">12 May 18:55</div>
<div class="tm" style="left:580px">15 May 10:55</div>
<div class="tm" style="left:644px">16 May 00:00</div>
<div class="tm" style="left:708px">16 May 18:55</div>
<div class="tm" style="left:772px">17 May 10:55</div>
<div class="tm" style="left:836px">18 May 00:00</div>
<div class="tm" style="left:900px">18 May 18:55</div>
<div class="tm" style="left:964px">19 May 10:55</div>
<div class="tm" style="left:1028px">22 May 00:00</div>
<div class="tm" style="left:1092px">22 May 18:55</div>
<div class="tm" style="left:1156px">23 May 10:55</div>
<div class="tm" style="left:1220px">24 May 00:00</div>
<div class="tm" style="left:1284px">24 May 18:55</div>
<div class="tm" style="left:1348px">25 May 10:55</div>
<div id="tb">
<svg width="1692" height="24" viewBox="0 0 1692 24">
<defs><linearGradient id="gold" x1="0" y1="0" x2="1" y2="1"><stop offset="0" stop-color="#fbe27a"/><stop offset="0.5" stop-color="#e9b823"/><stop offset="1" stop-color="#b7820f"/></linearGradient><linearGradient id="grn" x1="0" y1="0" x2="0" y2="1"><stop offset="0" stop-color="#6af676"/><stop offset="0.5" stop-color="#2fd43c"/><stop offset="1" stop-color="#0fa41c"/></linearGradient><linearGradient id="redc" x1="0" y1="0" x2="0" y2="1"><stop offset="0" stop-color="#ea5033"/><stop offset="1" stop-color="#d21c0c"/></linearGradient><linearGradient id="bub" x1="0" y1="0" x2="0" y2="1"><stop offset="0" stop-color="#ffffff"/><stop offset="1" stop-color="#c4c8da"/></linearGradient><linearGradient id="blu" x1="0" y1="0" x2="0" y2="1"><stop offset="0" stop-color="#5fb4f5"/><stop offset="1" stop-color="#1e6fd6"/></linearGradient><linearGradient id="clk" x1="0" y1="0" x2="0" y2="1"><stop offset="0" stop-color="#2f8ff0"/><stop offset="1" stop-color="#0b49ae"/></linearGradient><radialGradient id="sg" cx="146" cy="7.6" r="8" gradientUnits="userSpaceOnUse"><stop offset="0.15" stop-color="#eef6ee"/><stop offset="0.6" stop-color="#b4d8bc"/><stop offset="1" stop-color="#62ab74"/></radialGradient></defs>
<rect x="5" y="0" width="1" height="18" fill="#a0a0a0" shape-rendering="crispEdges"/>
<path d="M16.4,0.3H23.2L27.2,4V13.2H15.6V1.1Q15.6,0.3 16.4,0.3Z" fill="#fdfdfd" stroke="#8c8c8c" stroke-width="0.9"/>
<path d="M23.2,0.3V4H27.2" fill="#ececec" stroke="#8c8c8c" stroke-width="0.8"/>
<rect x="17" y="2.3" width="2.7" height="1.2" fill="#9a9a9a"/>
<path d="M17,6.4H22.4M17,8.5H22.4M17,10.5H20" stroke="#a4a4a4" stroke-width="1"/>
<polygon points="23.4,6.4 26.6,6.4 26.6,10.4 30.6,10.4 30.6,13.6 26.6,13.6 26.6,17.6 23.4,17.6 23.4,13.6 19.4,13.6 19.4,10.4 23.4,10.4" fill="url(#grn)" stroke="#0b8a16" stroke-width="0.8"/>
<path d="M88,1L97.8,9.1L89.3,15.9L81.9,10.4Q85.5,6.5 88,1Z" fill="url(#gold)" stroke="#a8740a" stroke-width="0.8" stroke-linejoin="round"/>
<path d="M89.3,15.9L97.8,9.1L97.9,10.6L89.6,17.2L81.9,11.6L81.9,10.4Z" fill="#b07c10"/>
<path d="M87.6,2.6Q85.6,6.8 83.4,10.2L84.8,11.2Q87.2,7.4 88.9,3.7Z" fill="#fff3b0" opacity="0.75"/>
<path d="M112.4,-2H123.2V9H112.4Z" fill="#2a8af0" stroke="#1b62c4" stroke-width="0.7"/>
<path d="M112.4,-2H115.6V9H112.4Z" fill="#1a6fe0"/>
<rect x="116.4" y="3.6" width="6" height="3.8" fill="#d6ecff"/>
<path d="M117.6,5.4H121.4" stroke="#3a86e0" stroke-width="0.9"/>
<path d="M113,15.6a3.1,3.1 0 0 1 0.3,-6.1a3.5,3.5 0 0 1 6.4,-1.3a2.8,2.8 0 0 1 3.7,1.8a2.9,2.9 0 0 1 -0.4,5.6Z" fill="url(#bub)" stroke="#5f80b8" stroke-width="0.9"/>
<path d="M146,-0.3a7.9,7.9 0 0 1 0,15.8Z" fill="url(#sg)"/>
<g fill="none"><path d="M146,-0.2a7.8,7.8 0 0 0 0,15.6" stroke="#9db6e6" stroke-width="1.1"/><path d="M146,2.9a4.8,4.8 0 0 0 0,9.6" stroke="#4a78d0" stroke-width="1.2"/><path d="M146,15.4a7.8,7.8 0 0 0 0,-15.6" stroke="#7ab88a" stroke-width="0.9"/></g>
<circle cx="145.9" cy="7.7" r="1.7" fill="#2456c8"/>
<path d="M146.7,8.3V15.7" stroke="#1fa632" stroke-width="1.7"/>
<path d="M165.7,6.6L180.7,6.2L176.4,12L172.9,15.7L168.2,10.8Z" fill="#f6d433" stroke="#c99b15" stroke-width="0.7"/>
<path d="M167.5,7.2L176,7L172.8,11.5Z" fill="#fdf0a0" opacity="0.8"/>
<ellipse cx="173.2" cy="3.9" rx="7.8" ry="2.5" fill="#4b9fe0" stroke="#2c78c2" stroke-width="0.7"/>
<ellipse cx="172.9" cy="1.5" rx="3.5" ry="2.7" fill="#6bb6ee" stroke="#3a86cc" stroke-width="0.6"/>
<circle cx="177.4" cy="11.7" r="3.9" fill="#de2212" stroke="#b81408" stroke-width="0.6"/><rect x="176.1" y="10.4" width="2.6" height="2.6" fill="#fff"/>
<rect x="241" y="0" width="1" height="20" fill="#a0a0a0" shape-rendering="crispEdges"/>
<rect x="245" y="0" width="3" height="1" fill="#a8a8a8" shape-rendering="crispEdges"/>
<rect x="245" y="2" width="3" height="1" fill="#a8a8a8" shape-rendering="crispEdges"/>
<rect x="245" y="4" width="3" height="1" fill="#a8a8a8" shape-rendering="crispEdges"/>
<rect x="245" y="6" width="3" height="1" fill="#a8a8a8" shape-rendering="crispEdges"/>
<rect x="245" y="8" width="3" height="1" fill="#a8a8a8" shape-rendering="crispEdges"/>
<rect x="245" y="10" width="3" height="1" fill="#a8a8a8" shape-rendering="crispEdges"/>
<rect x="245" y="12" width="3" height="1" fill="#a8a8a8" shape-rendering="crispEdges"/>
<rect x="245" y="14" width="3" height="1" fill="#a8a8a8" shape-rendering="crispEdges"/>
<rect x="245" y="16" width="3" height="1" fill="#a8a8a8" shape-rendering="crispEdges"/>
<g stroke="#5a5a5a" stroke-width="1" fill="none"><path d="M259.5,2.4V15.6M257,13.5H270.8"/><path d="M258.0,4.2L259.5,2.4L261.0,4.2M269.0,12L270.8,13.5L269.0,15"/></g>
<path d="M265.5,3.2V11.7M265.5,4.6H268M263,10.5H265.5" stroke="#148a1c" stroke-width="1.1" fill="none"/>
<rect x="280" y="0" width="24" height="18" fill="#f9f9f9" shape-rendering="crispEdges"/>
<rect x="279" y="0" width="1" height="18" fill="#a6a6a6" shape-rendering="crispEdges"/>
<g stroke="#5a5a5a" stroke-width="1" fill="none"><path d="M287.5,2.4V15.6M285,13.5H298.7"/><path d="M286.0,4.2L287.5,2.4L289.0,4.2M296.9,12L298.7,13.5L296.9,15"/></g>
<path d="M293.5,-1V11.8" stroke="#128a20" stroke-width="1.1"/><rect x="291.3" y="2.5" width="4.4" height="7.2" fill="#5cf06c" stroke="#0e9a1e" stroke-width="1"/>
<g stroke="#5a5a5a" stroke-width="1" fill="none"><path d="M315.5,2.4V15.6M313.2,13.5H327"/><path d="M314.0,4.2L315.5,2.4L317.0,4.2M325.2,12L327,13.5L325.2,15"/></g>
<path d="M314.2,9.9C316.5,7 318.5,5 320.3,5.2S323.5,8 325.5,9" stroke="#2a9a3a" stroke-width="1.3" fill="none"/>
<rect x="336" y="0" width="1" height="18" fill="#a0a0a0" shape-rendering="crispEdges"/>
<path d="M355.3,10.4L359.8,14.9" stroke="#9c7410" stroke-width="3.2"/>
<path d="M355.3,10.4L359.8,14.9" stroke="#e6bb32" stroke-width="1.9"/>
<circle cx="351" cy="5.9" r="5.3" fill="#d6ecfb" stroke="#3b86d8" stroke-width="1.3"/>
<path d="M348,5.9H354M351,2.9V8.9" stroke="#3a7ab8" stroke-width="1.7"/>
<path d="M383.3,10.4L387.8,14.9" stroke="#9c7410" stroke-width="3.2"/>
<path d="M383.3,10.4L387.8,14.9" stroke="#e6bb32" stroke-width="1.9"/>
<circle cx="379" cy="5.9" r="5.3" fill="#d6ecfb" stroke="#3b86d8" stroke-width="1.3"/>
<path d="M376,5.9H382" stroke="#3a7ab8" stroke-width="1.7"/>
<rect x="401.1" y="-0.2" width="7.8" height="8" rx="0.8" fill="#3f9f1f"/>
<rect x="402.1" y="2.8999999999999995" width="5.8" height="4" fill="#f4f8f4"/>
<rect x="403.1" y="4.199999999999999" width="3.8" height="0.9" fill="#7cc85a"/>
<rect x="402.1" y="1.2000000000000002" width="0.9" height="0.9" fill="#e8f0e8"/>
<rect x="409.2" y="-0.2" width="7.8" height="8" rx="0.8" fill="#2458d6"/>
<rect x="410.2" y="2.8999999999999995" width="5.8" height="4" fill="#f4f8f4"/>
<rect x="411.2" y="4.199999999999999" width="3.8" height="0.9" fill="#7aa0f0"/>
<rect x="410.2" y="1.2000000000000002" width="0.9" height="0.9" fill="#e8f0e8"/>
<rect x="401.1" y="8.1" width="7.8" height="7.8" rx="0.8" fill="#2458d6"/>
<rect x="402.1" y="10.999999999999998" width="5.8" height="4" fill="#f4f8f4"/>
<rect x="403.1" y="12.299999999999999" width="3.8" height="0.9" fill="#7aa0f0"/>
<rect x="402.1" y="9.299999999999999" width="0.9" height="0.9" fill="#e8f0e8"/>
<rect x="409.2" y="8.1" width="7.8" height="7.8" rx="0.8" fill="#3f9f1f"/>
<rect x="410.2" y="10.999999999999998" width="5.8" height="4" fill="#f4f8f4"/>
<rect x="411.2" y="12.299999999999999" width="3.8" height="0.9" fill="#7cc85a"/>
<rect x="410.2" y="9.299999999999999" width="0.9" height="0.9" fill="#e8f0e8"/>
<rect x="426" y="0" width="1" height="18" fill="#a0a0a0" shape-rendering="crispEdges"/>
<rect x="432" y="0" width="24" height="18" fill="#f9f9f9" shape-rendering="crispEdges"/>
<rect x="431" y="0" width="1" height="18" fill="#a6a6a6" shape-rendering="crispEdges"/>
<g stroke="#5a5a5a" stroke-width="1" fill="none"><path d="M439.5,2.4V15.6M437,13.5H450.4"/><path d="M438.0,4.2L439.5,2.4L441.0,4.2M448.59999999999997,12L450.4,13.5L448.59999999999997,15"/></g>
<polygon points="443.9,4.3 443.9,10.9 448.1,7.6" fill="#3cd04c" stroke="#128a20" stroke-width="0.9"/>
<rect x="459" y="0" width="1" height="18" fill="#a0a0a0" shape-rendering="crispEdges"/>
<rect x="460" y="0" width="24" height="18" fill="#f9f9f9" shape-rendering="crispEdges"/>
<g stroke="#5a5a5a" stroke-width="1" fill="none"><path d="M467.5,2.4V15.6M465,13.5H478.4"/><path d="M466.0,4.2L467.5,2.4L469.0,4.2M476.59999999999997,12L478.4,13.5L476.59999999999997,15"/></g>
<path d="M473.5,1.8V12" stroke="#1f6fa8" stroke-width="1.15"/><path d="M479,7.5H475" stroke="#d03a10" stroke-width="1.2"/><polygon points="473.9,7.5 476.8,5.4 476.8,9.6" fill="#d03a10"/>
<rect x="488" y="0" width="1" height="18" fill="#a0a0a0" shape-rendering="crispEdges"/>
<path d="M499.6,0.6H505.6L509.4,4.2V13.2H498.8V1.4Q498.8,0.6 499.6,0.6Z" fill="#fdfdfd" stroke="#8c8c8c" stroke-width="0.9"/>
<path d="M505.6,0.6V4.2H509.4" fill="#ececec" stroke="#8c8c8c" stroke-width="0.8"/>
<path d="M504,3.4C502.7,3.1 502.2,3.8 502.2,5V10.8M501,6.2H503.6" stroke="#6a6a5a" stroke-width="0.9" fill="none"/>
<polygon points="506.4,6.4 509.6,6.4 509.6,10.4 513.6,10.4 513.6,13.6 509.6,13.6 509.6,17.6 506.4,17.6 506.4,13.6 502.4,13.6 502.4,10.4 506.4,10.4" fill="url(#grn)" stroke="#0b8a16" stroke-width="0.8"/>
<polygon points="520,6.7 525.6,6.7 522.8,9.9" fill="#000"/>
<circle cx="544.1" cy="7.8" r="6.8" fill="#fff" stroke="url(#clk)" stroke-width="2.6"/>
<circle cx="544.1" cy="7.7" r="5.6" fill="#f4f8fd"/>
<rect x="542.8" y="-1.6" width="2.6" height="1.6" fill="#2a78d8"/>
<path d="M543.9,4.2V8H546.6" stroke="#222" stroke-width="1.2" fill="none"/>
<path d="M544.1,11.2v0.9M540.4,7.7h0.8" stroke="#9ab8dc" stroke-width="0.9"/>
<polygon points="558.6,6.7 564.2,6.7 561.4,9.9" fill="#000"/>
<rect x="575.6" y="1.4" width="15.2" height="13.2" fill="#fff" stroke="#2a62bc" stroke-width="1.3"/>
<rect x="576.2" y="2" width="14" height="1.9" fill="#86bdf2"/>
<path d="M576,9.1H590.6" stroke="#3a72c8" stroke-width="1"/>
<path d="M577.3,7.3H579L581,5.7L583,6.5H585L587,5.3H589.2" stroke="#8e1c08" stroke-width="1.3" fill="none"/>
<path d="M577.8,12.5L580,11.4L582,12.6L584,12L586,10.3L587.6,11L589.2,12.6" stroke="#0c8a14" stroke-width="1.3" fill="none"/>
<polygon points="597.9,6.7 603.5,6.7 600.6999999999999,9.9" fill="#000"/>
<rect x="609" y="0" width="1" height="20" fill="#a0a0a0" shape-rendering="crispEdges"/>
<rect x="613" y="0" width="3" height="1" fill="#a8a8a8" shape-rendering="crispEdges"/>
<rect x="613" y="2" width="3" height="1" fill="#a8a8a8" shape-rendering="crispEdges"/>
<rect x="613" y="4" width="3" height="1" fill="#a8a8a8" shape-rendering="crispEdges"/>
<rect x="613" y="6" width="3" height="1" fill="#a8a8a8" shape-rendering="crispEdges"/>
<rect x="613" y="8" width="3" height="1" fill="#a8a8a8" shape-rendering="crispEdges"/>
<rect x="613" y="10" width="3" height="1" fill="#a8a8a8" shape-rendering="crispEdges"/>
<rect x="613" y="12" width="3" height="1" fill="#a8a8a8" shape-rendering="crispEdges"/>
<rect x="613" y="14" width="3" height="1" fill="#a8a8a8" shape-rendering="crispEdges"/>
<rect x="613" y="16" width="3" height="1" fill="#a8a8a8" shape-rendering="crispEdges"/>
<rect x="620" y="0" width="24" height="18" fill="#f9f9f9" shape-rendering="crispEdges"/>
<rect x="619" y="0" width="1" height="18" fill="#a6a6a6" shape-rendering="crispEdges"/>
<polygon points="626.9,1.2 627.3,11.6 629.9,9.5 632.1,14.9 634.2,14 632,8.9 635.2,8.8" fill="#4d4d4d"/>
<path d="M652,8.3H658.2M660.6,8.3H667M659.4,1.1V7.1M659.4,9.5V15.6" stroke="#4d4d4d" stroke-width="1.1"/>
<rect x="676" y="0" width="1" height="18" fill="#a0a0a0" shape-rendering="crispEdges"/>
<path d="M693.4,2.4V14.7M716.1,8.3H727.8M743.7,14.7L756,2.8" stroke="#4d4d4d" stroke-width="1.15" fill="none"/>
<g stroke="#4d4d4d" stroke-width="1" fill="none"><path d="M770,9.5L781.7,1.4M774.2,14.7L783.6,6.6"/><path d="M772.6,7.7L773.6,15.2M775.6,5.6L776.6,13M778.6,3.5L779.6,10.4M781.4,-0.5L782.2,7.8M771.5,12.3L780,5.5"/></g>
<text x="780.4" y="17.2" font-family="Liberation Sans,sans-serif" font-weight="bold" font-size="7.4" fill="#4d4d4d">E</text>
<path d="M799,1.4H812" stroke="#4d4d4d" stroke-width="1" stroke-dasharray="1 1.05"/>
<path d="M799,4.3H812" stroke="#4d4d4d" stroke-width="1" stroke-dasharray="1 1.05"/>
<path d="M799,8.5H812" stroke="#4d4d4d" stroke-width="1" stroke-dasharray="1 1.05"/>
<path d="M799,12.3H806.5" stroke="#4d4d4d" stroke-width="1" stroke-dasharray="1 1.05"/>
<text x="808.4" y="17.2" font-family="Liberation Sans,sans-serif" font-weight="bold" font-size="7.4" fill="#4d4d4d">F</text>
<text x="829.6" y="12.8" font-family="Liberation Sans,sans-serif" font-size="12.3" fill="#4d4d4d" stroke="#4d4d4d" stroke-width="0.5">A</text>
<rect x="856" y="2.3" width="11.6" height="12.2" fill="none" stroke="#4d4d4d" stroke-width="1" stroke-dasharray="1 1.05"/>
<rect x="855.2" y="1.2" width="1.6" height="1.2" fill="#4d4d4d"/>
<path d="M857.9,5.9H866M861.95,5.9V12.8" stroke="#4d4d4d" stroke-width="1.5"/>
<polygon points="886.7,1.6 890.3,4.6 886.7,6.8 883.1,4.6" fill="#4d4d4d"/>
<polygon points="893.3,9.2 896.9,11.6 893.3,14.6 889.7,11.6" fill="#4d4d4d"/>
<path d="M884.8,8.7L887.3,11.2L891.9,6.1" stroke="#4d4d4d" stroke-width="1.5" fill="none"/>
<polygon points="903.7,6.7 909.3000000000001,6.7 906.5,9.9" fill="#000"/>
<rect x="915" y="0" width="1" height="20" fill="#a0a0a0" shape-rendering="crispEdges"/>
<rect x="919" y="0" width="3" height="1" fill="#a8a8a8" shape-rendering="crispEdges"/>
<rect x="919" y="2" width="3" height="1" fill="#a8a8a8" shape-rendering="crispEdges"/>
<rect x="919" y="4" width="3" height="1" fill="#a8a8a8" shape-rendering="crispEdges"/>
<rect x="919" y="6" width="3" height="1" fill="#a8a8a8" shape-rendering="crispEdges"/>
<rect x="919" y="8" width="3" height="1" fill="#a8a8a8" shape-rendering="crispEdges"/>
<rect x="919" y="10" width="3" height="1" fill="#a8a8a8" shape-rendering="crispEdges"/>
<rect x="919" y="12" width="3" height="1" fill="#a8a8a8" shape-rendering="crispEdges"/>
<rect x="919" y="14" width="3" height="1" fill="#a8a8a8" shape-rendering="crispEdges"/>
<rect x="919" y="16" width="3" height="1" fill="#a8a8a8" shape-rendering="crispEdges"/>
<rect x="1066" y="0" width="24" height="18" fill="#f9f9f9" shape-rendering="crispEdges"/>
<rect x="1065" y="0" width="1" height="18" fill="#a6a6a6" shape-rendering="crispEdges"/>
<rect x="1176" y="0" width="1" height="20" fill="#a0a0a0" shape-rendering="crispEdges"/>
<circle cx="1646.8" cy="5.4" r="3.7" fill="#fdfdff" stroke="#2a5fd4" stroke-width="1.2"/>
<path d="M1643.9,8.3L1639.3,12.9" stroke="#2a5fd4" stroke-width="2.2"/>
<path d="M1663.4,10.2a5.4,4.3 0 1 1 4.8,4.3l-1.9,1.9l-0.2,-2.3a5.4,4.3 0 0 1 -2.7,-3.9z" fill="url(#bub)" stroke="#9a9aa2" stroke-width="0.9"/>
<circle cx="1677.5" cy="6.0" r="7.9" fill="url(#redc)"/>
<text x="1676.4" y="10.1" text-anchor="middle" font-family="DejaVu Sans,Liberation Sans,sans-serif" font-size="11" fill="#fff">1</text>
</svg>
<span class="cn" style="left:34px;top:0px">新订单</span>
<span class="cn" style="left:186.5px;top:0px">自动交易</span>
<span class="tf" style="left:930.5px">M1</span>
<span class="tf" style="left:958.5px">M5</span>
<span class="tf" style="left:984.5px">M15</span>
<span class="tf" style="left:1012.5px">M30</span>
<span class="tf" style="left:1043.7px">H1</span>
<span class="tf" style="left:1070.8px">H4</span>
<span class="tf" style="left:1099.5px">D1</span>
<span class="tf" style="left:1127px">W1</span>
<span class="tf" style="left:1153.4px">MN</span>
</div>
</body></html>
